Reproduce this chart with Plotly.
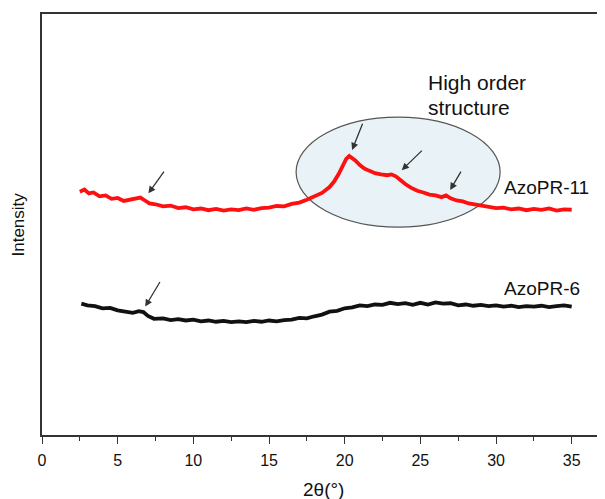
import plotly.graph_objects as go

# ---- data (arbitrary intensity units) ----
two_theta_11 = [2.5, 2.8, 3.1, 3.4, 3.8, 4.2, 4.6, 5.0, 5.4, 5.8, 6.2, 6.5, 6.8, 7.1, 7.5,
                8.0, 8.5, 9.0, 9.5, 10.0, 10.5, 11.0, 11.5, 12.0, 12.5, 13.0, 13.5, 14.0,
                14.5, 15.0, 15.5, 16.0, 16.5, 17.0, 17.5, 18.0, 18.5, 19.0, 19.3, 19.6,
                19.9, 20.1, 20.3, 20.5, 20.7, 21.0, 21.3, 21.6, 22.0, 22.4, 22.8, 23.1,
                23.4, 23.7, 24.0, 24.4, 24.8, 25.2, 25.6, 26.0, 26.4, 26.7, 27.0, 27.4,
                27.8, 28.2, 28.6, 29.0, 29.5, 30.0, 30.5, 31.0, 31.5, 32.0, 32.5, 33.0,
                33.5, 34.0, 34.5, 35.0]
intensity_11 = [57.8, 58.3, 57.4, 57.6, 56.7, 56.9, 56.1, 56.3, 55.6, 55.9, 56.2, 56.4, 55.7,
                55.0, 54.8, 54.3, 54.5, 53.9, 54.1, 53.6, 53.8, 53.4, 53.7, 53.3, 53.6, 53.4,
                53.8, 53.5, 53.9, 54.0, 54.4, 54.3, 54.9, 55.2, 55.9, 56.6, 57.5, 58.9, 60.2,
                62.0, 64.2, 65.6, 66.3, 65.8, 65.2, 64.1, 63.3, 62.8, 62.2, 61.9, 61.7, 61.9,
                61.4, 60.5, 59.6, 58.7, 58.0, 57.6, 57.1, 56.9, 56.5, 56.9, 56.2, 55.7, 55.5,
                55.0, 54.8, 54.4, 54.2, 53.9, 54.0, 53.6, 53.8, 53.4, 53.7, 53.5, 53.8, 53.3,
                53.6, 53.5]

two_theta_6 = [2.6, 3.0, 3.5, 4.0, 4.5, 5.0, 5.5, 6.0, 6.4, 6.7, 7.0, 7.4, 8.0, 8.5, 9.0,
               9.5, 10.0, 10.5, 11.0, 11.5, 12.0, 12.5, 13.0, 13.5, 14.0, 14.5, 15.0, 15.5,
               16.0, 16.5, 17.0, 17.5, 18.0, 18.5, 19.0, 19.5, 20.0, 20.5, 21.0, 21.5, 22.0,
               22.5, 23.0, 23.5, 24.0, 24.5, 25.0, 25.5, 26.0, 26.5, 27.0, 27.5, 28.0, 28.5,
               29.0, 29.5, 30.0, 30.5, 31.0, 31.5, 32.0, 32.5, 33.0, 33.5, 34.0, 34.5, 35.0]
intensity_6 = [31.2, 30.8, 30.6, 30.1, 30.2, 29.6, 29.3, 29.0, 29.4, 29.2, 28.3, 27.6, 27.7,
               27.3, 27.5, 27.2, 27.4, 27.0, 27.2, 26.9, 27.1, 26.8, 27.0, 26.8, 27.1, 26.9,
               27.2, 27.0, 27.3, 27.4, 27.8, 27.7, 28.2, 28.6, 29.3, 29.5, 30.1, 30.3, 30.8,
               30.6, 31.0, 30.9, 31.4, 31.1, 31.3, 30.9, 31.4, 31.0, 31.5, 31.2, 31.3, 30.8,
               31.0, 30.7, 30.9, 30.6, 30.8, 30.5, 30.7, 30.4, 30.6, 30.5, 30.7, 30.4, 30.6,
               30.8, 30.5]

x_ticks = [0, 5, 10, 15, 20, 25, 30, 35]
series_labels = ["AzoPR-11", "AzoPR-6"]

# arrows: (head_x, head_y, tail_x, tail_y)
arrows = [(7.03, 57.4, 8.13, 62.9),
          (20.49, 67.7, 21.22, 74.3),
          (23.77, 62.9, 25.20, 67.9),
          (26.97, 58.2, 27.74, 62.9),
          (6.82, 30.5, 7.85, 36.7)]

FONT = "Liberation Sans, Arial, sans-serif"

fig = go.Figure()

# ellipse highlighting high order structure
fig.add_shape(type="circle", xref="x", yref="y", x0=16.79, x1=30.27, y0=49.4, y1=75.5,
              fillcolor="#e9f3f7", line=dict(color="#555555", width=1.2), layer="below")

fig.add_trace(go.Scatter(x=two_theta_11, y=intensity_11, mode="lines",
                         line=dict(color="#ff1010", width=3.8), name=series_labels[0]))
fig.add_trace(go.Scatter(x=two_theta_6, y=intensity_6, mode="lines",
                         line=dict(color="#111111", width=3.8), name=series_labels[1]))

annotations = []
for hx, hy, tx, ty in arrows:
    annotations.append(dict(x=hx, y=hy, ax=tx, ay=ty, xref="x", yref="y", axref="x", ayref="y",
                            text="", showarrow=True, arrowhead=2, arrowsize=1.1,
                            arrowwidth=1.3, arrowcolor="#333333", standoff=0))

annotations += [
    dict(x=25.4, y=83.8, xref="x", yref="y", text="High order", showarrow=False,
         xanchor="left", yanchor="middle", font=dict(family=FONT, size=21, color="#111")),
    dict(x=25.4, y=77.9, xref="x", yref="y", text="structure", showarrow=False,
         xanchor="left", yanchor="middle", font=dict(family=FONT, size=21, color="#111")),
    dict(x=30.4, y=58.9, xref="x", yref="y", text=series_labels[0], showarrow=False,
         xanchor="left", yanchor="middle", font=dict(family=FONT, size=19, color="#111")),
    dict(x=30.4, y=34.9, xref="x", yref="y", text=series_labels[1], showarrow=False,
         xanchor="left", yanchor="middle", font=dict(family=FONT, size=19, color="#111")),
    dict(x=0.5, y=0, xref="paper", yref="paper", text="2θ(°)", showarrow=False,
         xanchor="center", yanchor="middle", yshift=-54, font=dict(family=FONT, size=19, color="#111")),
    dict(x=0, y=0.5, xref="paper", yref="paper", text="Intensity", showarrow=False,
         textangle=-90, xanchor="center", yanchor="middle", xshift=-24,
         font=dict(family=FONT, size=17, color="#111")),
]

# the page body adds an 8px margin, so the figure is sized/offset to compensate
fig.update_layout(
    width=597, height=491,
    margin=dict(l=34, r=0, t=6, b=64),
    paper_bgcolor="white", plot_bgcolor="white",
    showlegend=False,
    annotations=annotations,
    xaxis=dict(range=[0, 37.2], tickvals=x_ticks, ticks="outside", ticklen=7, tickwidth=1.3,
               tickcolor="#333", showline=True, linecolor="#333", linewidth=1.5, mirror=True,
               showgrid=False, zeroline=False, ticklabelstandoff=3,
               tickfont=dict(family=FONT, size=16, color="#111"),
               minor=dict(dtick=2.5, tick0=0, ticks="outside", ticklen=4, tickwidth=1.2,
                          tickcolor="#333", showgrid=False)),
    yaxis=dict(range=[0, 100], showticklabels=False, ticks="", showline=True,
               linecolor="#333", linewidth=1.5, mirror=False, showgrid=False, zeroline=False),
)

fig.write_html("out.html")
